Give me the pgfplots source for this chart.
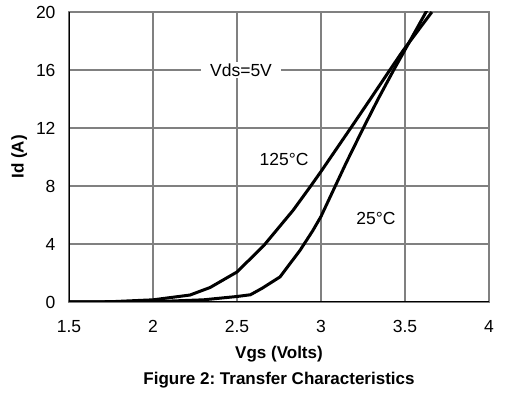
\documentclass[border=0pt]{standalone}
\usepackage{fontspec}
\setmainfont{Liberation Sans}
\usepackage{pgfplots}
\pgfplotsset{compat=1.18}
\definecolor{gridgray}{RGB}{128,128,128}
\frenchspacing

% Transfer characteristics, Id versus Vgs at Vds = 5 V
\pgfplotstableread{
vgs   id
1.50  0.00
1.75  0.02
2.00  0.15
2.22  0.48
2.34  1.00
2.50  2.07
2.66  3.90
2.835 6.34
2.939 8.00
3.00  9.00
3.177 12.00
3.29  13.93
3.41  16.00
3.486 17.30
3.66  20.00
}\hotcurve

\pgfplotstableread{
vgs   id
1.50  0.00
2.00  0.02
2.30  0.15
2.50  0.38
2.58  0.50
2.65  0.95
2.756 1.73
2.875 3.56
2.95  4.90
3.00  5.90
3.073 7.70
3.15  9.60
3.252 12.00
3.34  14.00
3.435 16.05
3.486 17.10
3.63  20.10
}\roomcurve

\begin{document}
\begin{tikzpicture}[x=1pt,y=1pt]
\begin{axis}[
  name=main,
  scale only axis,
  width=420pt, height=290pt,
  xmin=1.5, xmax=4, ymin=0, ymax=20,
  xtick={1.5,2,2.5,3,3.5,4},
  xticklabels={1.5,2,2.5,3,3.5,4},
  ytick={0,4,8,12,16,20},
  major tick length=0pt,
  grid=major,
  major grid style={draw=gridgray, line width=1.3pt},
  axis line style={draw=gridgray, line width=1.3pt},
  /pgf/number format/assume math mode=true,
  tick label style={font=\fontsize{17.5}{20}\selectfont},
  xticklabel style={yshift=-15pt},
  yticklabel style={xshift=-10pt},
  xlabel={\textbf{Vgs (Volts)}},
  ylabel={\textbf{Id (A)}},
  label style={font=\fontsize{17}{20}\selectfont},
  xlabel style={yshift=-6pt},
  ylabel style={yshift=2pt},
  clip=true,
]
\addplot[black, line width=3pt, line join=round] table[x=vgs, y=id] {\hotcurve};
\addplot[black, line width=3pt, line join=round] table[x=vgs, y=id] {\roomcurve};

% left and bottom frame lines are drawn in black
\draw[black, line width=2.2pt] (rel axis cs:0,1) -- (rel axis cs:0,0) -- (rel axis cs:1,0);

\node[fill=white, inner xsep=9pt, inner ysep=2pt, font=\fontsize{17.5}{20}\selectfont] at (axis cs:2.524,16) {Vds=5V};
\node[font=\fontsize{17.5}{20}\selectfont] at (axis cs:2.78,9.86) {125°C};
\node[font=\fontsize{17.5}{20}\selectfont] at (axis cs:3.327,5.79) {25°C};
\end{axis}
\node[font=\fontsize{17}{20}\selectfont\bfseries] at ([yshift=-78pt]main.south) {Figure 2: Transfer Characteristics};
\path ([shift={(-69pt,-96pt)}]main.south west) rectangle ([shift={(17pt,12pt)}]main.north east);
\end{tikzpicture}
\end{document}
